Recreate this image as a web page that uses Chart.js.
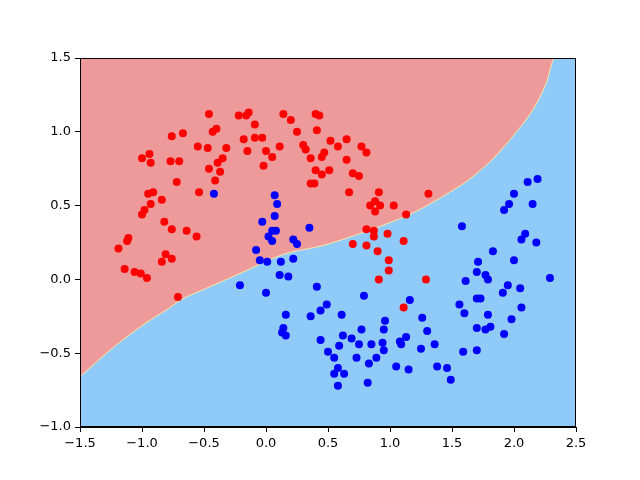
<!DOCTYPE html>
<html>
<head>
<meta charset="utf-8">
<script src="https://cdn.jsdelivr.net/npm/chart.js@4/dist/chart.umd.min.js"></script>
<style>
  body { margin: 0; background: #fff; }
  #wrap { width: 640px; height: 480px; }
</style>
</head>
<body>
<div id="wrap"><canvas id="chart" width="640" height="480"></canvas></div>
<script>
// class 0 (red) points
const redX = [-0.46, -0.22, -0.16, -0.14, -0.40, -0.43, -0.76, -0.67, -0.18, -0.15,
  -0.55, -0.47, -0.32, -0.94, -1.00, -0.93, -0.77, -0.70, -0.35, -0.39,
  -0.46, -0.37, -0.41, -0.72, -0.09, -0.09, -0.03, 0.00, 0.05, 0.11,
  -0.02, 0.14, 0.20, 0.25, 0.40, 0.43, 0.41, 0.30, 0.32, 0.52,
  0.58, 0.65, 0.36, 0.47, 0.45, 0.65, 0.77, 0.81, 0.40, 0.45,
  0.51, 0.70, 0.75, 0.36, 0.39, -0.54, -0.95, -0.91, -0.93, -0.84,
  -0.98, -1.00, -0.82, -0.76, -0.64, -0.56, -1.11, -1.12, -1.19, -0.81,
  -0.76, -0.84, -1.14, -1.06, -1.01, -0.96, -0.71, 0.67, 0.91, 0.84,
  0.88, 0.92, 0.88, 1.03, 1.13, 0.81, 0.87, 0.87, 0.98, 1.11,
  0.70, 0.81, 0.90, 0.99, 0.99, 0.91, 1.11, 1.31, 1.29];
const redY = [1.12, 1.11, 1.11, 1.13, 1.02, 1.00, 0.97, 0.99, 0.95, 0.87,
  0.90, 0.89, 0.89, 0.85, 0.82, 0.79, 0.80, 0.80, 0.82, 0.79,
  0.75, 0.73, 0.67, 0.66, 1.05, 0.96, 0.96, 0.87, 0.83, 0.90,
  0.77, 1.12, 1.08, 1.00, 1.12, 1.11, 1.01, 0.91, 0.88, 0.94,
  0.90, 0.95, 0.82, 0.86, 0.83, 0.81, 0.90, 0.86, 0.74, 0.71,
  0.74, 0.72, 0.70, 0.65, 0.65, 0.59, 0.58, 0.59, 0.51, 0.54,
  0.47, 0.44, 0.39, 0.34, 0.33, 0.29, 0.28, 0.26, 0.21, 0.17,
  0.14, 0.12, 0.07, 0.05, 0.04, 0.01, -0.12, 0.59, 0.59, 0.50,
  0.53, 0.50, 0.46, 0.50, 0.44, 0.34, 0.33, 0.29, 0.31, 0.26,
  0.24, 0.23, 0.19, 0.13, 0.06, 0.00, -0.19, 0.58, 0.00];

// class 1 (blue) points
const blueX = [2.11, 2.19, -0.42, -0.21, 0.07, 0.09, 0.07, -0.03, 0.35, 0.05,
  0.08, 0.02, 0.05, 0.22, 0.25, -0.08, -0.05, 0.01, 0.12, 0.22,
  0.11, 0.18, 0.00, 0.41, 0.79, 0.49, 0.44, 1.16, 2.00, 1.96,
  1.92, 2.15, 1.58, 2.09, 2.06, 2.18, 1.83, 1.71, 2.00, 1.70,
  1.77, 1.79, 1.61, 2.29, 1.95, 1.91, 2.05, 1.70, 1.73, 1.56,
  2.06, 0.16, 0.36, 0.61, 0.14, 0.13, 0.16, 0.96, 0.44, 0.62,
  0.69, 0.77, 0.95, 0.59, 0.75, 0.85, 0.94, 0.95, 1.08, 1.09,
  1.13, 0.50, 0.55, 0.73, 0.89, 0.83, 0.58, 0.55, 0.63, 1.05,
  1.15, 0.58, 0.82, 1.26, 1.60, 1.79, 1.98, 1.30, 1.70, 1.77,
  1.81, 1.92, 1.36, 1.25, 1.59, 1.70, 1.38, 1.46, 1.49];
const blueY = [0.66, 0.68, 0.58, -0.04, 0.57, 0.51, 0.43, 0.39, 0.35, 0.33,
  0.33, 0.29, 0.26, 0.27, 0.24, 0.20, 0.13, 0.12, 0.12, 0.14,
  0.03, 0.02, -0.09, -0.05, -0.11, -0.17, -0.21, -0.14, 0.58, 0.51,
  0.47, 0.51, 0.36, 0.31, 0.27, 0.25, 0.19, 0.12, 0.13, 0.05,
  0.03, 0.00, -0.01, 0.01, -0.04, -0.09, -0.06, -0.13, -0.13, -0.17,
  -0.19, -0.24, -0.25, -0.24, -0.33, -0.36, -0.38, -0.28, -0.41, -0.38,
  -0.40, -0.34, -0.34, -0.45, -0.44, -0.44, -0.43, -0.48, -0.42, -0.44,
  -0.39, -0.49, -0.53, -0.53, -0.53, -0.57, -0.60, -0.64, -0.64, -0.59,
  -0.61, -0.72, -0.70, -0.26, -0.23, -0.24, -0.27, -0.35, -0.33, -0.34,
  -0.32, -0.37, -0.44, -0.47, -0.49, -0.48, -0.59, -0.60, -0.68];

// decision boundary
const boundaryX = [-1.5, -1.23, -0.96, -0.79, -0.69, -0.48, -0.21, 0.14, 0.46, 0.79,
  1.0, 1.16, 1.32, 1.48, 1.62, 1.73, 1.81, 1.89, 2.02, 2.16, 2.26, 2.33, 2.5];
const boundaryY = [-0.66, -0.46, -0.29, -0.20, -0.14, -0.06, 0.04, 0.17, 0.23, 0.32,
  0.385, 0.44, 0.51, 0.59, 0.665, 0.74, 0.80, 0.87, 1.00, 1.16, 1.33, 1.5, 1.5];

const xTicks = [-1.5, -1.0, -0.5, 0.0, 0.5, 1.0, 1.5, 2.0, 2.5];
const yTicks = [-1.0, -0.5, 0.0, 0.5, 1.0, 1.5];

const toPoints = (xs, ys) => xs.map((x, i) => ({ x: x, y: ys[i] }));
const fmt = v => v.toFixed(1).replace('-', '\u2212');

// top and right spines like matplotlib
const frame = {
  id: 'frame',
  afterDraw(chart) {
    const a = chart.chartArea;
    const ctx = chart.ctx;
    ctx.save();
    ctx.strokeStyle = '#000';
    ctx.lineWidth = 1;
    ctx.strokeRect(a.left + 0.5, a.top + 0.5, a.right - a.left - 1, a.bottom - a.top - 1);
    ctx.restore();
  }
};

const axisCommon = {
  type: 'linear',
  grid: { display: true, drawOnChartArea: false, drawTicks: true, tickLength: 5, color: '#000' },
  border: { display: true, color: '#000', width: 1 },
  ticks: {
    color: '#000',
    padding: 4,
    font: { family: 'DejaVu Sans', size: 13 },
    callback: v => fmt(v)
  }
};

new Chart(document.getElementById('chart'), {
  type: 'scatter',
  data: {
    datasets: [
      {
        label: 'class 0',
        data: toPoints(redX, redY),
        backgroundColor: '#ff0000',
        borderWidth: 0,
        pointRadius: 4,
        order: 0
      },
      {
        label: 'class 1',
        data: toPoints(blueX, blueY),
        backgroundColor: '#0000ff',
        borderWidth: 0,
        pointRadius: 4,
        order: 0
      },
      {
        type: 'line',
        label: 'region 0',
        data: toPoints(boundaryX, boundaryY),
        borderColor: 'rgba(245,235,160,0.9)',
        borderWidth: 1,
        pointRadius: 0,
        cubicInterpolationMode: 'monotone',
        backgroundColor: '#ef9a9a',
        fill: 'end',
        order: 2
      },
      {
        type: 'line',
        label: 'region 1',
        data: toPoints(boundaryX, boundaryY),
        borderWidth: 0,
        pointRadius: 0,
        cubicInterpolationMode: 'monotone',
        backgroundColor: '#90caf9',
        fill: 'start',
        order: 3
      }
    ]
  },
  options: {
    responsive: false,
    animation: false,
    layout: { padding: { top: 58, right: 64, left: 0, bottom: 0 } },
    plugins: { legend: { display: false }, tooltip: { enabled: false } },
    scales: {
      x: Object.assign({}, axisCommon, {
        min: -1.5, max: 2.5,
        afterBuildTicks: s => { s.ticks = xTicks.map(v => ({ value: v })); },
        afterFit: s => { s.height = 53; }
      }),
      y: Object.assign({}, axisCommon, {
        min: -1.0, max: 1.5,
        afterBuildTicks: s => { s.ticks = yTicks.map(v => ({ value: v })); },
        afterFit: s => { s.width = 80; }
      })
    }
  },
  plugins: [frame]
});
</script>
</body>
</html>
